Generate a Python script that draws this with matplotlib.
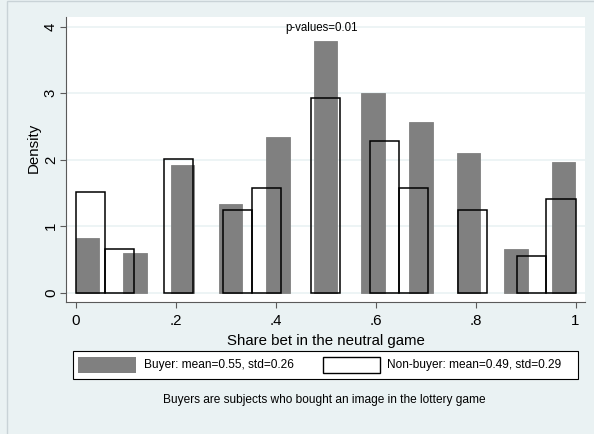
import matplotlib
matplotlib.use("Agg")
import matplotlib.pyplot as plt
from matplotlib.patches import Rectangle

# ---------------- data ----------------
buyer_bin_left = [0.0, 0.095, 0.190, 0.286, 0.381, 0.476, 0.571, 0.667, 0.762, 0.857, 0.952]
buyer_bin_width = 0.0476
buyer_density = [0.82, 0.60, 1.92, 1.33, 2.34, 3.78, 3.01, 2.56, 2.10, 0.65, 1.965]

nonbuyer_bin_left = [0.0, 0.0588, 0.1765, 0.2941, 0.3529, 0.4706, 0.5882, 0.6471, 0.7647, 0.8824, 0.9412]
nonbuyer_bin_width = 0.0588
nonbuyer_density = [1.52, 0.66, 2.015, 1.25, 1.575, 2.93, 2.28, 1.575, 1.25, 0.545, 1.415]

x_ticks = [0, 0.2, 0.4, 0.6, 0.8, 1.0]
x_ticklabels = ["0", ".2", ".4", ".6", ".8", "1"]
y_ticks = [0, 1, 2, 3, 4]
y_ticklabels = ["0", "1", "2", "3", "4"]

buyer_label = "Buyer: mean=0.55, std=0.26"
nonbuyer_label = "Non-buyer: mean=0.49, std=0.29"
pvalue_text = "p-values=0.01"
note_text = "Buyers are subjects who bought an image in the lottery game"
x_title = "Share bet in the neutral game"
y_title = "Density"

# ---------------- style ----------------
BG = "#EAF2F3"
GRAY = "#808080"
AXC = "#5a5a5a"
plt.rcParams["font.family"] = ["Liberation Sans", "DejaVu Sans"]

W, H = 594, 434
fig = plt.figure(figsize=(W / 100, H / 100), dpi=100, facecolor=BG)


def fx(px):
    return px / W


def fy(py):
    return 1 - py / H


# outer border (graph region frame, cropped at right/bottom)
fig.add_artist(Rectangle((fx(7), fy(440)), fx(700) - fx(7), fy(1) - fy(440),
                         transform=fig.transFigure, fc="none", ec="#c9d3d7", lw=1.0))

ax_l, ax_r, ax_t, ax_b = 66, 585, 16.7, 301.7
ax = fig.add_axes([fx(ax_l), fy(ax_b), (ax_r - ax_l) / W, (ax_b - ax_t) / H])
ax.set_facecolor("white")

ax.set_xlim(-0.019, 1.019)
ax.set_ylim(-0.135, 4.15)

ax.bar(buyer_bin_left, buyer_density, width=buyer_bin_width, align="edge",
       color=GRAY, edgecolor=GRAY, linewidth=0.6, zorder=2)
ax.bar(nonbuyer_bin_left, nonbuyer_density, width=nonbuyer_bin_width, align="edge",
       facecolor="none", edgecolor="black", linewidth=1.1, zorder=3)

ax.set_yticks(y_ticks)
ax.set_yticklabels(y_ticklabels, rotation=90, va="center")
ax.set_xticks(x_ticks)
ax.set_xticklabels(x_ticklabels)
ax.tick_params(axis="both", labelsize=10.8, color=AXC, width=0.8)
ax.tick_params(axis="x", length=4, pad=5)
ax.tick_params(axis="y", length=4.3, pad=1.5)

ax.grid(axis="y", color=BG, linewidth=1.2, zorder=0)
ax.set_axisbelow(True)

for s in ["top", "right"]:
    ax.spines[s].set_visible(False)
for s in ["left", "bottom"]:
    ax.spines[s].set_color(AXC)
    ax.spines[s].set_linewidth(0.8)

ax.set_xlabel(x_title, fontsize=10.8)
ax.xaxis.set_label_coords(0.5, -0.113)
ax.set_ylabel(y_title, fontsize=10.8)
ax.yaxis.set_label_coords(-0.0487, 0.539)

ax.text(0.492, 3.98, pvalue_text, ha="center", va="center", fontsize=8.3, zorder=4)

# ---------------- legend ----------------
fig.add_artist(Rectangle((fx(72.7), fy(379)), fx(577.6) - fx(72.7), fy(351.5) - fy(379),
                         transform=fig.transFigure, fc="white", ec="black", lw=0.8))
fig.add_artist(Rectangle((fx(78.4), fy(372.7)), fx(135.6) - fx(78.4), fy(357.3) - fy(372.7),
                         transform=fig.transFigure, fc=GRAY, ec="none"))
fig.add_artist(Rectangle((fx(323), fy(372.7)), fx(380) - fx(323), fy(357.3) - fy(372.7),
                         transform=fig.transFigure, fc="white", ec="black", lw=1.0))
fig.text(fx(144), fy(365), buyer_label, ha="left", va="center", fontsize=8.55)
fig.text(fx(387), fy(365), nonbuyer_label, ha="left", va="center", fontsize=8.55)

fig.text(fx(324), fy(400), note_text, ha="center", va="center", fontsize=8.55)

fig.savefig("out.png", dpi=100, facecolor=BG)
